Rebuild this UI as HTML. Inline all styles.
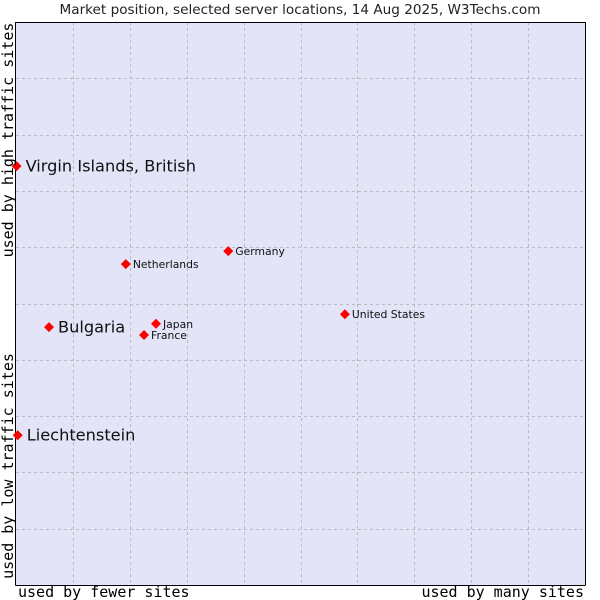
<!DOCTYPE html>
<html><head><meta charset="utf-8"><style>
body{margin:0;background:#fff;}
svg{display:block;}
</style></head><body>
<svg id="chart" width="600" height="600" xmlns="http://www.w3.org/2000/svg">
<text x="300" y="14" text-anchor="middle" font-family="DejaVu Sans, sans-serif" font-size="13.6" fill="#222">Market position, selected server locations, 14 Aug 2025, W3Techs.com</text>
<rect x="16" y="22" width="569" height="563" fill="#e3e4f8" stroke="none"/>
<g id="grid"></g>
<line x1="15.5" y1="22" x2="15.5" y2="585.5" stroke="#000"/>
<line x1="15.5" y1="22.5" x2="585" y2="22.5" stroke="#000"/>
<line x1="15.5" y1="585.5" x2="585" y2="585.5" stroke="#000"/>
<line x1="585.5" y1="22" x2="585.5" y2="585.5" stroke="#000"/>
<g id="points"></g>
<text transform="translate(13,140) rotate(-90)" text-anchor="middle" font-family="DejaVu Sans Mono, monospace" font-size="15" fill="#000">used by high traffic sites</text>
<text transform="translate(13,466) rotate(-90)" text-anchor="middle" font-family="DejaVu Sans Mono, monospace" font-size="15" fill="#000">used by low traffic sites</text>
<text x="18" y="597" font-family="DejaVu Sans Mono, monospace" font-size="15" fill="#000">used by fewer sites</text>
<text x="584" y="597" text-anchor="end" font-family="DejaVu Sans Mono, monospace" font-size="15" fill="#000">used by many sites</text>
</svg>
<script>
const names = ["Virgin Islands, British","Bulgaria","Liechtenstein","Netherlands","Germany","Japan","France","United States"];
const xValues = [0.1,5.8,0.3,19.3,37.3,24.6,22.5,57.8];
const yValues = [74.4,45.8,26.6,57.0,59.3,46.4,44.4,48.1];
const bigLabel = [true,true,true,false,false,false,false,false];
const L=16,R=585,T=22,B=585;
const xs=v=>L+v/100*(R-L);
const ys=v=>B-v/100*(B-T);
const NS="http://www.w3.org/2000/svg";
const grid=document.getElementById('grid');
for(let i=1;i<10;i++){
  const gx=document.createElementNS(NS,'line');
  const px=Math.round(xs(i*10))+0.5;
  gx.setAttribute('x1',px);gx.setAttribute('x2',px);gx.setAttribute('y1',T);gx.setAttribute('y2',B);
  gx.setAttribute('stroke','#bbb');gx.setAttribute('stroke-dasharray','3,3');
  
  
  grid.appendChild(gx);
  const gy=document.createElementNS(NS,'line');
  const py=Math.round(ys(i*10))+0.5;
  gy.setAttribute('x1',L);gy.setAttribute('x2',R);gy.setAttribute('y1',py);gy.setAttribute('y2',py);
  gy.setAttribute('stroke','#bbb');gy.setAttribute('stroke-dasharray','3,3');
  
  
  grid.appendChild(gy);
}
const pts=document.getElementById('points');
names.forEach((n,i)=>{
  const x=xs(xValues[i]),y=ys(yValues[i]);
  const m=document.createElementNS(NS,'path');
  m.setAttribute('d',`M${x-5},${y} L${x},${y-5} L${x+5},${y} L${x},${y+5} Z`);
  m.setAttribute('fill','#f00');
  
  
  pts.appendChild(m);
  const t=document.createElementNS(NS,'text');
  t.setAttribute('x',x+(bigLabel[i]?9:7));
  t.setAttribute('y',y+(bigLabel[i]?5.5:4));
  t.setAttribute('font-family','DejaVu Sans, sans-serif');
  t.setAttribute('font-size',bigLabel[i]?'16.2':'10.8');
  t.setAttribute('fill','#111');
  t.textContent=n;
  
  
  pts.appendChild(t);
});
</script>
</body></html>
